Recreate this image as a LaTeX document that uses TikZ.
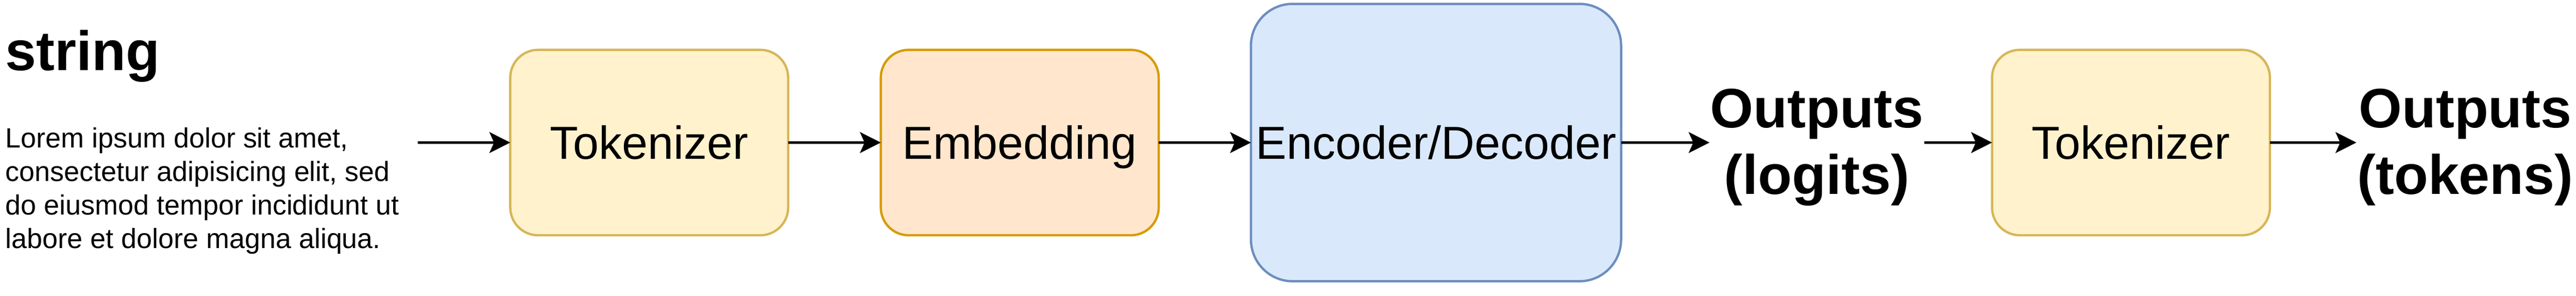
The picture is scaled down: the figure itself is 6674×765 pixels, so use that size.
\documentclass[tikz,border=0pt]{standalone}
\usepackage{fontspec}
\setmainfont{Liberation Sans}
\usetikzlibrary{arrows.meta}
\definecolor{tokfill}{HTML}{FFF2CC}
\definecolor{tokline}{HTML}{D6B656}
\definecolor{embfill}{HTML}{FFE6CC}
\definecolor{embline}{HTML}{D79B00}
\definecolor{encfill}{HTML}{DAE8FC}
\definecolor{encline}{HTML}{6C8EBF}
\begin{document}
\begin{tikzpicture}[x=0.1pt,y=-0.1pt,
  box/.style={draw, line width=0.6pt, outer sep=0pt, inner sep=0pt,
    rounded corners=7.2pt, minimum width=72pt, minimum height=48pt,
    font=\fontsize{12pt}{14.4pt}\selectfont, text height=10pt, text depth=1.4pt},
  tokbox/.style={box, fill=tokfill, draw=tokline},
  embbox/.style={box, fill=embfill, draw=embline},
  encbox/.style={box, fill=encfill, draw=encline, rounded corners=10.8pt,
    minimum width=95.9pt, minimum height=71.8pt},
  flow/.style={-{Stealth[length=5.4pt,width=5.4pt,inset=1.2pt]}, line width=0.6pt},
  heading/.style={font=\fontsize{14.4pt}{17.28pt}\selectfont\bfseries, inner sep=0pt},
  body/.style={font=\fontsize{7.2pt}{8.64pt}\selectfont, inner sep=0pt}
]
\useasboundingbox (0,0) rectangle (6674,765);

\node[heading, anchor=base west] (title) at (12,182) {string};
\node[body, anchor=base west] (lorem) at (12,383) {\begin{tabular}[t]{@{}l@{}}Lorem ipsum dolor sit amet,\\consectetur adipisicing elit, sed\\do eiusmod tempor incididunt ut\\labore et dolore magna aliqua.\end{tabular}};

\coordinate (in) at (1082,369);
\node[tokbox] (tok1) at (1682,369) {Tokenizer};
\node[embbox] (emb) at (2642,369) {Embedding};
\node[encbox] (enc) at (3720.5,369) {Encoder/Decoder};
\node[heading, anchor=base] (out1) at (4707,330) {\begin{tabular}[t]{@{}c@{}}Outputs\\(logits)\end{tabular}};
\node[tokbox] (tok2) at (5521,369) {Tokenizer};
\node[heading, anchor=base] (out2) at (6387,330) {\begin{tabular}[t]{@{}c@{}}Outputs\\(tokens)\end{tabular}};

\draw[flow] (in) -- (tok1.west);
\draw[flow] (tok1.east) -- (emb.west);
\draw[flow] (emb.east) -- (enc.west);
\draw[flow] (enc.east) -- (enc.east -| out1.west);
\draw[flow] (tok2.west -| out1.east) -- (tok2.west);
\draw[flow] (tok2.east) -- (tok2.east -| out2.west);
\end{tikzpicture}
\end{document}
